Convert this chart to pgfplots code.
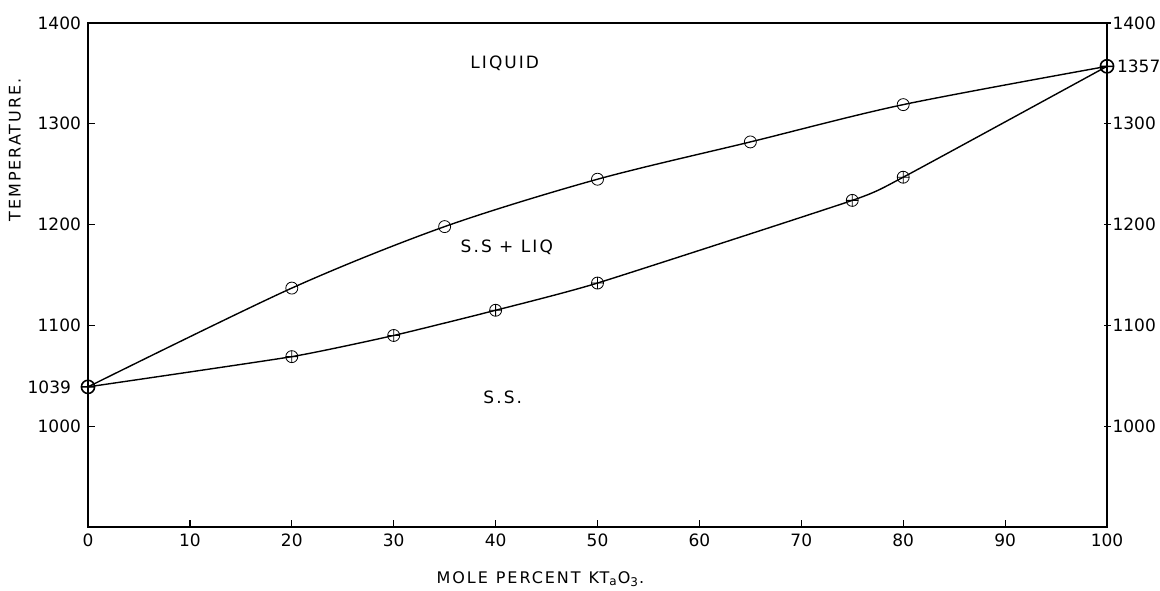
\documentclass[border=0pt]{standalone}
\usepackage{fontspec}
\setmainfont{DejaVu Sans}
\newfontfamily\lettering[LetterSpace=12]{DejaVu Sans}
\usepackage{pgfplots}
\pgfplotsset{compat=1.18}

% liquidus (upper) and solidus (lower), mole percent vs temperature
\pgfplotstableread{
x   T
0   1039
20  1137
35  1198
50  1245
65  1282
80  1319
100 1357
}\liquidus
\pgfplotstableread{
x   T
0   1039
20  1069
30  1090
40  1115
50  1142
75  1224
80  1247
100 1357
}\solidus

\begin{document}
\begin{tikzpicture}
\pgfplotsset{
  common/.style={
    scale only axis, width=509.5pt, height=252pt,
    xmin=0, xmax=100, ymin=900, ymax=1400,
    axis line style={line width=0.8pt},
    tick style={black, line width=0.6pt},
    major tick length=3.5pt,
    tick align=inside,
    ticklabel style={font=\fontsize{8.5}{10}\selectfont},
    /pgf/number format/assume math mode=true,
    /pgf/number format/set thousands separator={},
  },
}
\begin{axis}[common, name=ax,
  xtick={0,10,...,100}, xtick pos=bottom,
  ytick={1000,1100,1200,1300,1400}, ytick pos=left,
  extra y ticks={1039},
  extra y tick style={major tick length=0pt, yticklabel style={xshift=-5pt}},
  clip=false,
]
\addplot[black, line width=0.7pt, smooth, tension=0.5] table[x=x, y=T] {\liquidus};
\addplot[black, line width=0.7pt, smooth, tension=0.3] table[x=x, y=T] {\solidus};
% interior points
\addplot[only marks, mark=o, mark size=3pt, mark options={fill=white, line width=0.4pt}]
  coordinates {(20,1137) (35,1198) (50,1245) (65,1282) (80,1319)};
\addplot[only marks, mark=oplus, mark size=3pt, mark options={fill=white, line width=0.4pt}]
  coordinates {(20,1069) (30,1090) (40,1115) (50,1142) (75,1224) (80,1247)};
% end points
\addplot[only marks, mark=oplus, mark size=3.3pt, mark options={fill=white, line width=0.8pt}]
  coordinates {(0,1039) (100,1357)};

\node[font=\lettering\fontsize{8.5}{10}\selectfont] at (axis cs:40.9,1360) {LIQUID};
\node[font=\lettering\fontsize{8.5}{10}\selectfont] at (axis cs:41.1,1177) {S.S + LIQ};
\node[font=\lettering\fontsize{8.5}{10}\selectfont] at (axis cs:40.7,1029) {S.S.};
\node[font=\lettering\fontsize{8}{10}\selectfont, rotate=90] at ([xshift=-36.5pt]rel axis cs:0,0.748) {TEMPERATURE.};
\node[font=\lettering\fontsize{8}{10}\selectfont] at ([yshift=-26pt]rel axis cs:0.444,0) {MOLE\enspace PERCENT\enspace KT\textsubscript{a}O\textsubscript{3}.};
\end{axis}
\begin{axis}[common,
  hide x axis,
  axis y line*=right,
  ytick={1000,1100,1200,1300,1400}, ytick pos=right, yticklabel pos=right,
  yticklabel style={xshift=-2.5pt},
  extra y ticks={1357},
  extra y tick style={major tick length=0pt, yticklabel style={xshift=4pt}},
  tick align=center,
]
\end{axis}
\pgfresetboundingbox
\path ([shift={(-44pt,-32pt)}]ax.south west) rectangle ([shift={(26.5pt,11.5pt)}]ax.north east);
\end{tikzpicture}
\end{document}
